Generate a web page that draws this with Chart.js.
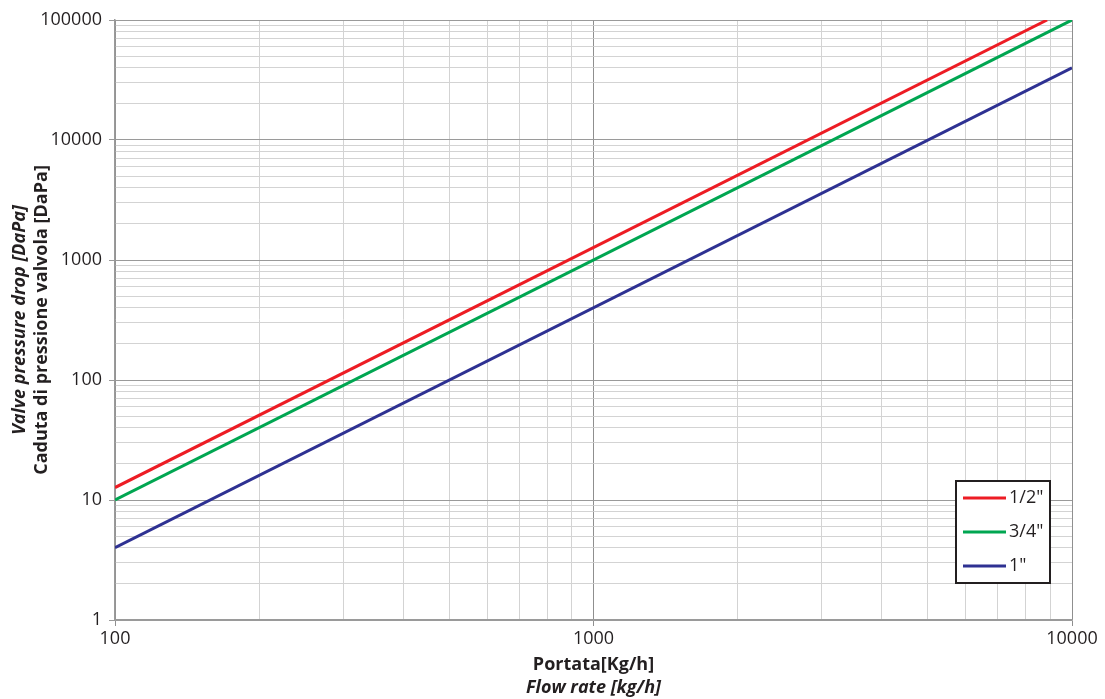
<!DOCTYPE html>
<html>
<head>
<meta charset="utf-8">
<script src="https://cdn.jsdelivr.net/npm/chart.js@4/dist/chart.umd.min.js"></script>
<style>
    body { margin: 0; background: #fff; }
    #wrap { position: relative; width: 1105px; height: 699px; }
</style>
</head>
<body>
<div id="wrap"><canvas id="drop"></canvas></div>
<script>
// series (flow kg/h -> pressure drop daPa)
var seriesNames = ['1/2"', '3/4"', '1"'];
var seriesColors = ['#ed1c24', '#00a651', '#2e3192'];

var flowHalf = [100, 8870];
var dropHalf = [12.7, 100000];
var flowThreeQuarter = [100, 10000];
var dropThreeQuarter = [10, 100000];
var flowOne = [100, 10000];
var dropOne = [4, 40000];

var xTickLabels = [100, 1000, 10000];
var yTickLabels = [1, 10, 100, 1000, 10000, 100000];

var textColor = '#231f20';
var fontFamily = '"Open Sans", "Noto Sans", sans-serif';

function toPoints(xs, ys) {
    var pts = [];
    for (var i = 0; i < xs.length; i++) {
        pts.push({x: xs[i], y: ys[i]});
    }
    return pts;
}

// major decades plus 2..9 in between, for the grid
function logTicks(majors) {
    var out = [];
    for (var i = 0; i < majors.length - 1; i++) {
        for (var k = 1; k < 10; k++) {
            out.push({value: majors[i] * k});
        }
    }
    out.push({value: majors[majors.length - 1]});
    return out;
}

function isMajor(list, v) {
    return list.indexOf(v) >= 0;
}

var axisTitles = {
    id: 'axisTitles',
    afterDraw: function(chart) {
        var ctx = chart.ctx;
        var area = chart.chartArea;
        var cx = (area.left + area.right) / 2;
        var cy = (area.top + area.bottom) / 2;
        ctx.save();
        ctx.fillStyle = textColor;
        ctx.textAlign = 'center';
        ctx.textBaseline = 'middle';
        ctx.font = 'bold 18px ' + fontFamily;
        ctx.fillText('Portata[Kg/h]', cx, 665);
        ctx.font = 'italic bold 18px ' + fontFamily;
        ctx.fillText('Flow rate [kg/h]', cx, 688);

        ctx.translate(0, cy);
        ctx.rotate(-Math.PI / 2);
        ctx.font = 'italic bold 18px ' + fontFamily;
        ctx.fillText('Valve pressure drop [DaPa]', 0, 20);
        ctx.font = 'bold 18px ' + fontFamily;
        ctx.fillText('Caduta di pressione valvola [DaPa]', 0, 42);
        ctx.restore();
    }
};

var legendBox = {
    id: 'legendBox',
    afterDraw: function(chart) {
        var ctx = chart.ctx;
        var area = chart.chartArea;
        var left = area.right - 116;
        var top = area.bottom - 139;
        var w = 94, h = 102;
        ctx.save();
        ctx.fillStyle = '#fff';
        ctx.fillRect(left, top, w, h);
        ctx.strokeStyle = '#231f20';
        ctx.lineWidth = 2;
        ctx.strokeRect(left, top, w, h);
        ctx.font = '18px ' + fontFamily;
        ctx.textBaseline = 'middle';
        ctx.textAlign = 'left';
        chart.data.datasets.forEach(function(ds, i) {
            var y = top + 17 + i * 34;
            ctx.strokeStyle = ds.borderColor;
            ctx.lineWidth = 3;
            ctx.beginPath();
            ctx.moveTo(left + 7, y);
            ctx.lineTo(left + 50, y);
            ctx.stroke();
            ctx.fillStyle = textColor;
            ctx.fillText(ds.label, left + 53, y);
        });
        ctx.restore();
    }
};

var context = document.getElementById('drop').getContext('2d');
var chart = new Chart(context, {
    type: 'line',
    data: {
        datasets: [{
                label: seriesNames[0],
                data: toPoints(flowHalf, dropHalf),
                borderColor: seriesColors[0]
            }, {
                label: seriesNames[1],
                data: toPoints(flowThreeQuarter, dropThreeQuarter),
                borderColor: seriesColors[1]
            }, {
                label: seriesNames[2],
                data: toPoints(flowOne, dropOne),
                borderColor: seriesColors[2]
            }]
    },
    options: {
        responsive: true,
        maintainAspectRatio: false,
        animation: false,
        layout: {
            padding: {top: 20, right: 33, left: 0, bottom: 0}
        },
        elements: {
            line: { borderWidth: 3, tension: 0 },
            point: { radius: 0 }
        },
        plugins: {
            legend: { display: false },
            tooltip: { enabled: false }
        },
        scales: {
            x: {
                type: 'logarithmic',
                min: 100,
                max: 10000,
                afterBuildTicks: function(scale) {
                    scale.ticks = logTicks(xTickLabels);
                },
                afterFit: function(scale) {
                    scale.height = 79;
                },
                ticks: {
                    autoSkip: false,
                    maxRotation: 0,
                    padding: 2,
                    color: textColor,
                    font: { family: fontFamily, size: 18 },
                    callback: function(value) {
                        return isMajor(xTickLabels, value) ? String(value) : '';
                    }
                },
                grid: {
                    tickLength: 6,
                    color: function(c) {
                        return isMajor(xTickLabels, c.tick.value) ? '#8f8f8f' : '#d3d3d3';
                    },
                    tickColor: function(c) {
                        return isMajor(xTickLabels, c.tick.value) ? '#8f8f8f' : 'rgba(0,0,0,0)';
                    }
                },
                border: { color: '#9a9a9a', width: 1.5 }
            },
            y: {
                type: 'logarithmic',
                min: 1,
                max: 100000,
                afterBuildTicks: function(scale) {
                    scale.ticks = logTicks(yTickLabels);
                },
                afterFit: function(scale) {
                    scale.width = 115;
                },
                ticks: {
                    autoSkip: false,
                    padding: 7,
                    color: textColor,
                    font: { family: fontFamily, size: 18 },
                    callback: function(value) {
                        return isMajor(yTickLabels, value) ? String(value) : '';
                    }
                },
                grid: {
                    tickLength: 6,
                    color: function(c) {
                        return isMajor(yTickLabels, c.tick.value) ? '#9a9a9a' : '#d3d3d3';
                    },
                    tickColor: function(c) {
                        return isMajor(yTickLabels, c.tick.value) ? '#9a9a9a' : 'rgba(0,0,0,0)';
                    }
                },
                border: { color: '#9a9a9a', width: 1.5 }
            }
        }
    },
    plugins: [axisTitles, legendBox]
});
</script>
</body>
</html>
